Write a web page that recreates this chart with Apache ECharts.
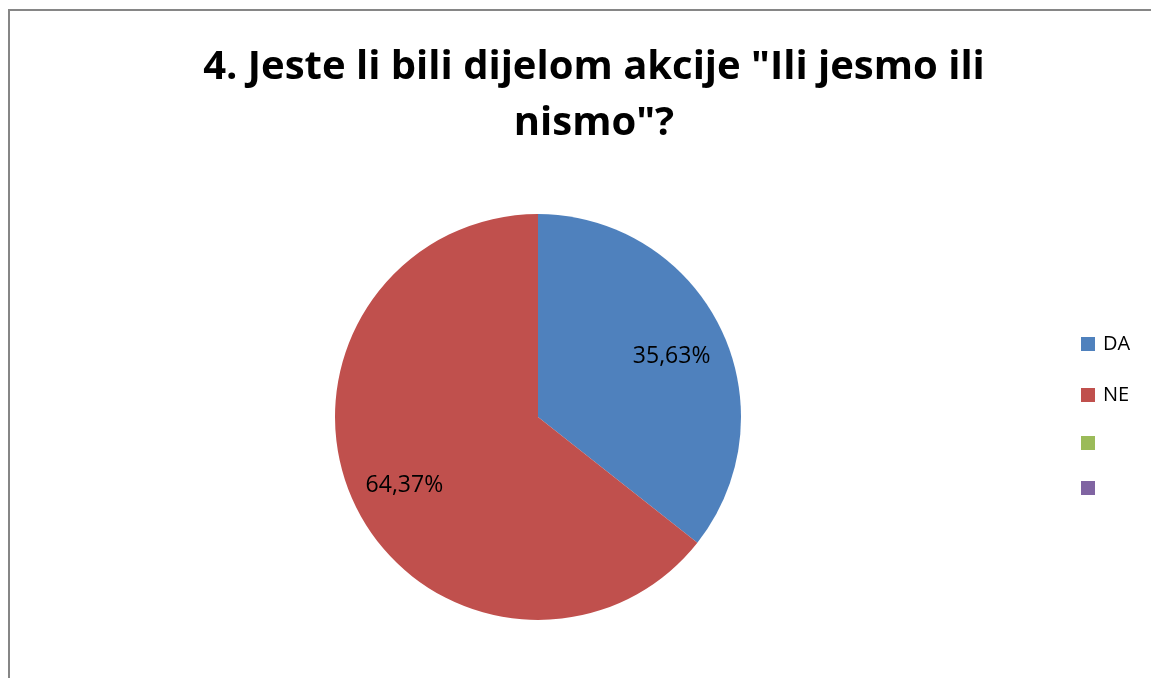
<!DOCTYPE html>
<html>
<head>
<meta charset="utf-8">
<script src="https://cdn.jsdelivr.net/npm/echarts@6/dist/echarts.min.js"></script>
<style>
html,body{margin:0;padding:0;background:#fff;}
#chart{width:1151px;height:678px;}
</style>
</head>
<body>
<div id="chart"></div>
<script>
const titleText = '4. Jeste li bili dijelom akcije "Ili jesmo ili\nnismo"?';
const categories = ['DA', 'NE', 'C3', 'C4'];
const legendLabels = ['DA', 'NE', '', ''];
const values = [35.63, 64.37, 0, 0];
const colors = ['#4F81BD', '#C0504D', '#9BBB59', '#8064A2'];

const chart = echarts.init(document.getElementById('chart'), null, {renderer: 'canvas'});

const fmtPct = p => p.value.toFixed(2).replace('.', ',') + '%';

chart.setOption({
  animation: false,
  backgroundColor: '#fff',
  title: {
    text: titleText,
    left: 589,
    textAlign: 'center',
    top: 35,
    textStyle: {
      fontFamily: 'Open Sans',
      fontWeight: 'bold',
      fontSize: 40,
      lineHeight: 56,
      color: '#000'
    }
  },
  legend: {
    orient: 'vertical',
    left: 1081,
    top: 334,
    padding: 0,
    icon: 'rect',
    itemWidth: 14,
    itemHeight: 14,
    itemGap: 31,
    data: categories,
    selectedMode: false,
    formatter: name => legendLabels[categories.indexOf(name)],
    textStyle: {
      fontFamily: 'Open Sans',
      fontSize: 20,
      lineHeight: 14,
      color: '#000',
      padding: [0, 0, 0, 3]
    }
  },
  graphic: [{
    type: 'rect',
    shape: {x: 9, y: 10, width: 1200, height: 700},
    style: {fill: 'none', stroke: '#868686', lineWidth: 2},
    silent: true,
    z: -1
  }],
  series: [
    {
      type: 'pie',
      center: [538, 417],
      radius: [0, 203],
      startAngle: 90,
      clockwise: true,
      label: {show: false},
      labelLine: {show: false},
      emphasis: {disabled: true},
      data: categories.map((c, i) => ({
        name: c,
        value: values[i],
        itemStyle: {color: colors[i]}
      }))
    },
    {
      type: 'pie',
      center: [538, 417],
      radius: [88, 203],
      startAngle: 90,
      clockwise: true,
      silent: true,
      itemStyle: {color: 'rgba(0,0,0,0)'},
      label: {
        show: true,
        position: 'inside',
        formatter: fmtPct,
        fontFamily: 'Open Sans',
        fontSize: 23,
        color: '#000',
        offset: [0, 4]
      },
      labelLine: {show: false},
      emphasis: {disabled: true},
      data: categories.map((c, i) => ({
        name: c,
        value: values[i],
        itemStyle: {color: 'rgba(0,0,0,0)'},
        label: {show: values[i] > 0}
      }))
    }
  ]
});
</script>
</body>
</html>
